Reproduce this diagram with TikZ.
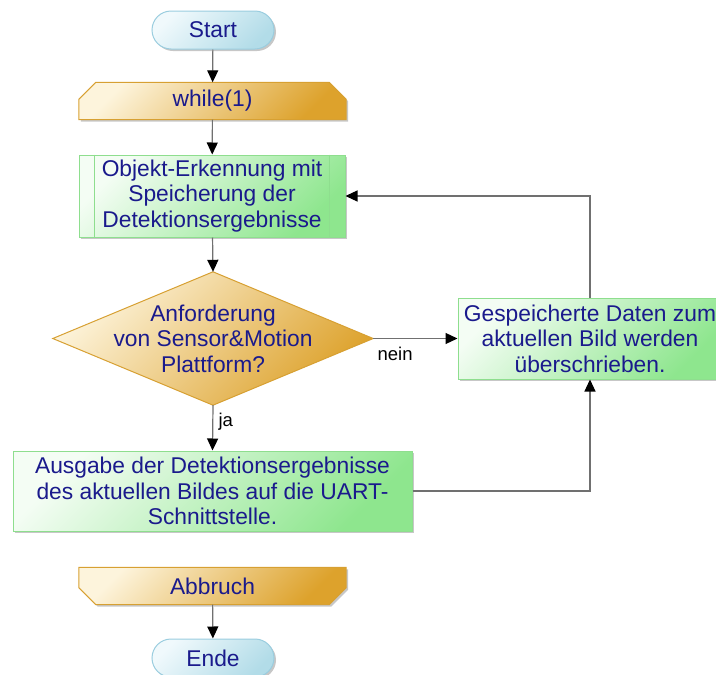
\documentclass[tikz,border=0pt]{standalone}
\usepackage{fontspec}
\setmainfont{Liberation Sans}
\usetikzlibrary{arrows.meta,calc,shadows,backgrounds}

\definecolor{txt}{HTML}{1A1A8C}
\definecolor{pillA}{HTML}{F0F9FC}
\definecolor{pillB}{HTML}{B2DCE8}
\definecolor{pillline}{HTML}{9ACDDF}
\definecolor{greenA}{HTML}{F4FDF4}
\definecolor{greenB}{HTML}{8EE68E}
\definecolor{greenline}{HTML}{8EDE8E}
\definecolor{orA}{HTML}{FDF4DC}
\definecolor{orB}{HTML}{DDA22C}
\definecolor{orangeline}{HTML}{D7A032}
\definecolor{linegray}{HTML}{707070}

\tikzset{
  base/.style={font=\fontsize{22.8}{25.5}\selectfont, text=txt, align=center, inner sep=0pt},
  shadowed/.style={drop shadow={shadow xshift=2pt, shadow yshift=-2pt, fill=black, opacity=0.22}},
  pill/.style={base, draw=pillline, line width=1pt, rounded corners=19pt,
    minimum width=122pt, minimum height=38pt,
    top color=pillA, bottom color=pillB, shading angle=45, shadowed},
  procbox/.style={base, draw=greenline, line width=1pt,
    top color=greenA, bottom color=greenB, shading angle=45, shadowed},
  loopbox/.style={base, minimum width=267pt, minimum height=37pt},
  loopfill/.style={draw=orangeline, line width=1pt,
    top color=orA, bottom color=orB, shading angle=45, shadowed},
  decfill/.style={draw=orangeline, line width=1pt,
    top color=orA, bottom color=orB, shading angle=45},
  flow/.style={draw=linegray, line width=1.2pt,
    -{Triangle[width=11pt,length=12pt,color=black]}},
  lbl/.style={font=\fontsize{18.5}{20}\selectfont, text=black, inner sep=0pt},
}

\begin{document}
\begin{tikzpicture}[x=1pt, y=-1pt]
\useasboundingbox (0,0) rectangle (716,675);

% terminals
\node[pill] (start) at (213,30) {Start};
\node[pill] (ende) at (213,658) {Ende};

% loop head and loop end (text only; outlines drawn below)
\node[loopbox] (loop) at (212.5,101) {while(1)};
\node[loopbox] (abbr) at (212.5,586) {Abbruch};

% process boxes
\node[procbox, minimum width=266pt, minimum height=82pt] (obj) at (212,196)
  {Objekt-Erkennung mit\\Speicherung der\\Detektionsergebnisse};
\node[procbox, minimum width=264pt, minimum height=81pt] (save) at (590,338.5)
  {Gespeicherte Daten zum\\aktuellen Bild werden\\überschrieben.};
\node[procbox, minimum width=399pt, minimum height=80pt] (out) at (212.5,491)
  {Ausgabe der Detektionsergebnisse\\des aktuellen Bildes auf die UART-\\Schnittstelle.};

% side bars of the predefined process
\draw[greenline, line width=1pt] ([xshift=16pt]obj.north west) -- ([xshift=16pt]obj.south west);
\draw[greenline, line width=1pt] ([xshift=-16pt]obj.north east) -- ([xshift=-16pt]obj.south east);

% decision (text only; diamond drawn below)
\node[base, minimum width=320pt, minimum height=133pt] (dec) at (213,338.5)
  {Anforderung\\von Sensor\&Motion\\Plattform?};

\begin{scope}[on background layer]
  \path[loopfill] (loop.south west) -- ($(loop.north west)+(0,17)$)
    -- ($(loop.north west)+(17,0)$) -- ($(loop.north east)+(-17,0)$)
    -- ($(loop.north east)+(0,17)$) -- (loop.south east) -- cycle;
  \path[loopfill] (abbr.north west) -- ($(abbr.south west)+(0,-17)$)
    -- ($(abbr.south west)+(17,0)$) -- ($(abbr.south east)+(-17,0)$)
    -- ($(abbr.south east)+(0,-17)$) -- (abbr.north east) -- cycle;
  \path[decfill] (dec.north) -- (dec.east) -- (dec.south) -- (dec.west) -- cycle;
\end{scope}

% connectors
\draw[flow] (start) -- (loop);
\draw[flow] (loop) -- (obj);
\draw[flow] (obj) -- (dec.north);
\draw[flow] (dec.east) -- node[lbl, pos=0.26, yshift=-15pt] {nein} (save.west);
\draw[flow] (dec.south) -- node[lbl, pos=0.37, xshift=13pt] {ja} (out.north);
\draw[flow] (save.north) |- (obj.east);
\draw[flow] (out.east) -| (save.south);
\draw[flow] (abbr) -- (ende);
\end{tikzpicture}
\end{document}
